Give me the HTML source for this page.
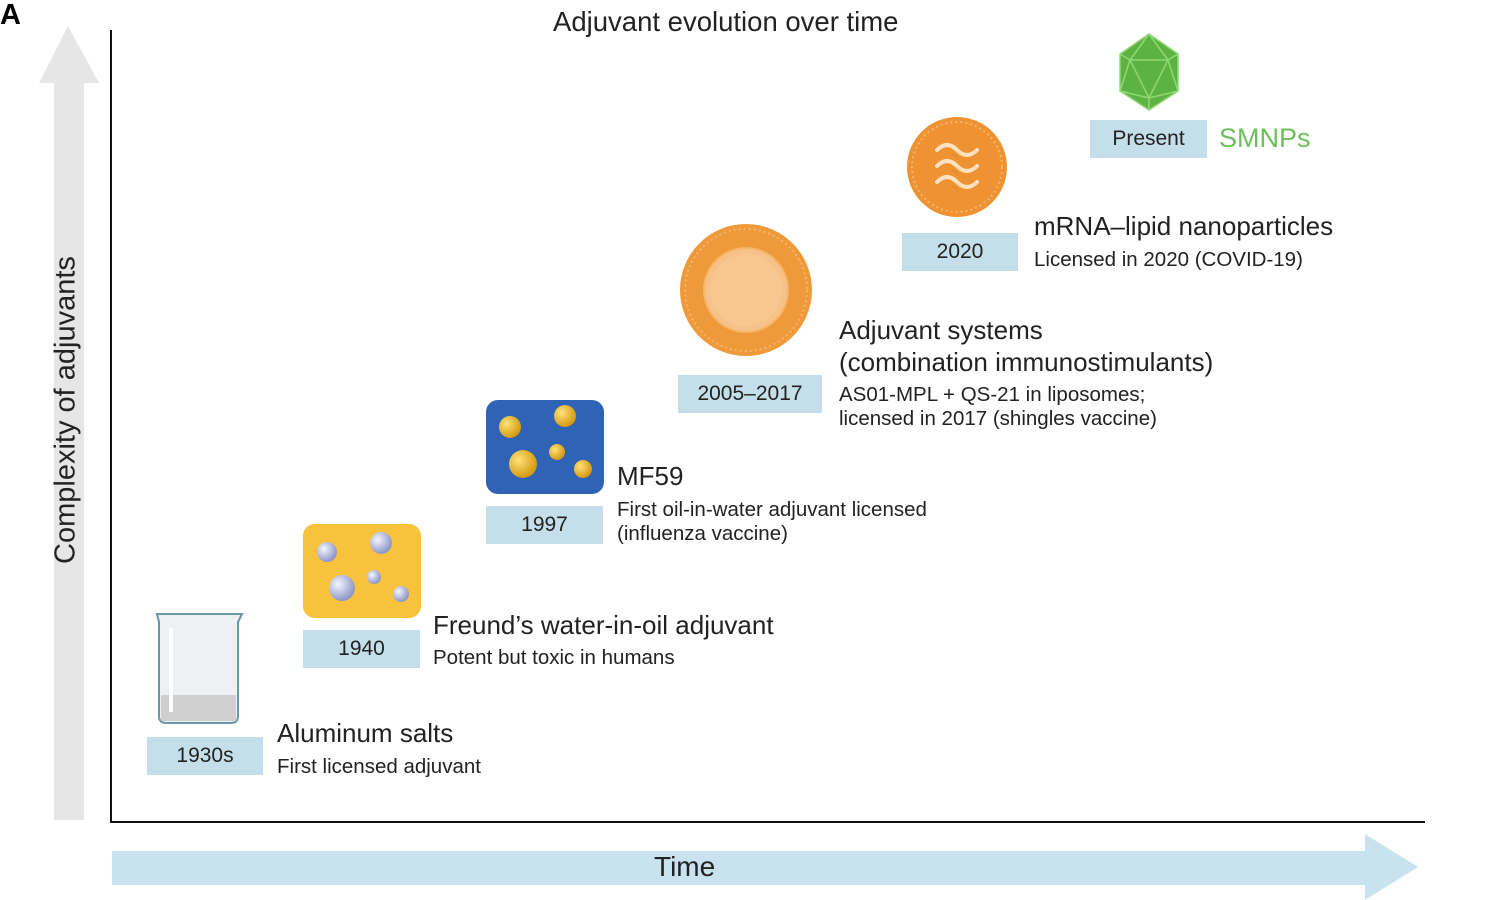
<!DOCTYPE html>
<html><head><meta charset="utf-8"><style>
body{margin:0;width:1500px;height:900px;background:#fff;position:relative;overflow:hidden;font-family:"Liberation Sans",sans-serif;color:#222}
.t{position:absolute;white-space:nowrap;line-height:1}
.yr{position:absolute;background:#c4dfea;font-size:21px;text-align:center;color:#222;display:flex;align-items:center;justify-content:center}
.h{font-size:26px}.s{font-size:20.5px}
</style></head><body>
<svg width="1500" height="900" style="position:absolute;left:0;top:0">
<defs>
<radialGradient id="bub" cx="35%" cy="35%" r="65%"><stop offset="0" stop-color="#f4f6ff"/><stop offset="1" stop-color="#8e97c8"/></radialGradient>
<radialGradient id="gold" cx="35%" cy="35%" r="65%"><stop offset="0" stop-color="#ffe27a"/><stop offset="1" stop-color="#d59a12"/></radialGradient>
</defs>
<polygon points="68,26 99,83 84,83 84,820 54,820 54,83 39,83" fill="#e6e6e7"/>
<line x1="111" y1="30" x2="111" y2="823" stroke="#111" stroke-width="2"/>
<line x1="111" y1="822" x2="1425" y2="822" stroke="#111" stroke-width="2"/>
<polygon points="112,851 1365,851 1365,834 1418,867 1365,900 1365,885 112,885" fill="#c9e3ee"/>
<path d="M157,614 L242,614 L238,622 L238,716 Q238,723 231,723 L166,723 Q159,723 159,716 L159,622 Z" fill="#eef1f3" stroke="#6b98a8" stroke-width="2"/>
<rect x="161" y="695" width="75" height="26" fill="#cfcfcf"/>
<rect x="169" y="628" width="4" height="84" fill="#fff"/>
<rect x="303" y="524" width="118" height="94" rx="12" fill="#f9c23c"/>
<circle cx="327" cy="552" r="10" fill="url(#bub)"/><circle cx="381" cy="543" r="11" fill="url(#bub)"/>
<circle cx="342" cy="588" r="13" fill="url(#bub)"/><circle cx="374" cy="577" r="7" fill="url(#bub)"/><circle cx="401" cy="594" r="8" fill="url(#bub)"/>
<rect x="486" y="400" width="118" height="94" rx="12" fill="#2f63b5"/>
<circle cx="510" cy="427" r="11" fill="url(#gold)"/><circle cx="565" cy="416" r="11" fill="url(#gold)"/>
<circle cx="523" cy="464" r="14" fill="url(#gold)"/><circle cx="557" cy="452" r="8" fill="url(#gold)"/><circle cx="583" cy="469" r="9" fill="url(#gold)"/>
<circle cx="746" cy="290" r="66" fill="#ef9a3a"/>
<circle cx="746" cy="290" r="61" fill="none" stroke="#f7b56a" stroke-width="2" stroke-dasharray="2 3"/>
<circle cx="746" cy="290" r="42" fill="#f6c28a" stroke="#f7b56a" stroke-width="2"/>
<circle cx="746" cy="290" r="36" fill="#f8c791"/>
<circle cx="957" cy="167" r="50" fill="#ef9332"/>
<circle cx="957" cy="167" r="45" fill="none" stroke="#f8b46a" stroke-width="2" stroke-dasharray="2 3"/>
<g fill="none" stroke="#fde3bf" stroke-width="4" stroke-linecap="round">
<path d="M937,150 q10,-10 20,0 t20,0"/><path d="M937,166 q10,-10 20,0 t20,0"/><path d="M937,182 q10,-10 20,0 t20,0"/></g>
<polygon points="1149,34 1178,54 1178,91 1149,110 1120,91 1120,54" fill="#5cb344"/>
<g stroke="#8fd874" stroke-width="1.5" fill="none">
<polygon points="1149,34 1178,54 1178,91 1149,110 1120,91 1120,54"/>
<polygon points="1130,60 1168,60 1149,98"/>
<path d="M1149,34 L1130,60 M1149,34 L1168,60 M1120,54 L1130,60 M1178,54 L1168,60 M1120,91 L1130,60 M1178,91 L1168,60 M1120,91 L1149,98 M1178,91 L1149,98 M1149,110 L1149,98"/>
</g>
</svg>
<div class="t" style="left:0px;top:1px;font-size:29px;font-weight:bold;color:#000">A</div>
<div class="t" style="left:553px;top:8px;font-size:27.5px">Adjuvant evolution over time</div>
<div class="t" style="left:66px;top:410px;font-size:29px;transform:translate(-50%,-50%) rotate(-90deg)">Complexity of adjuvants</div>
<div class="t" style="left:654px;top:853px;font-size:28px">Time</div>

<div class="yr" style="left:147px;top:737px;width:116px;height:38px">1930s</div>
<div class="yr" style="left:303px;top:630px;width:117px;height:38px">1940</div>
<div class="yr" style="left:486px;top:506px;width:117px;height:38px">1997</div>
<div class="yr" style="left:678px;top:375px;width:144px;height:38px">2005–2017</div>
<div class="yr" style="left:902px;top:233px;width:116px;height:38px">2020</div>
<div class="yr" style="left:1090px;top:120px;width:117px;height:38px">Present</div>

<div class="t h" style="left:277px;top:720px">Aluminum salts</div>
<div class="t s" style="left:277px;top:757px">First licensed adjuvant</div>
<div class="t h" style="left:433px;top:612px">Freund’s water-in-oil adjuvant</div>
<div class="t s" style="left:433px;top:648px">Potent but toxic in humans</div>
<div class="t h" style="left:617px;top:463px">MF59</div>
<div class="t s" style="left:617px;top:500px">First oil-in-water adjuvant licensed</div>
<div class="t s" style="left:617px;top:524px">(influenza vaccine)</div>
<div class="t h" style="left:839px;top:317px">Adjuvant systems</div>
<div class="t h" style="left:839px;top:349px">(combination immunostimulants)</div>
<div class="t s" style="left:839px;top:385px">AS01-MPL + QS-21 in liposomes;</div>
<div class="t s" style="left:839px;top:409px">licensed in 2017 (shingles vaccine)</div>
<div class="t h" style="left:1034px;top:213px">mRNA–lipid nanoparticles</div>
<div class="t s" style="left:1034px;top:250px">Licensed in 2020 (COVID-19)</div>
<div class="t" style="left:1219px;top:125px;font-size:27px;color:#6cbf5a">SMNPs</div>
</body></html>
